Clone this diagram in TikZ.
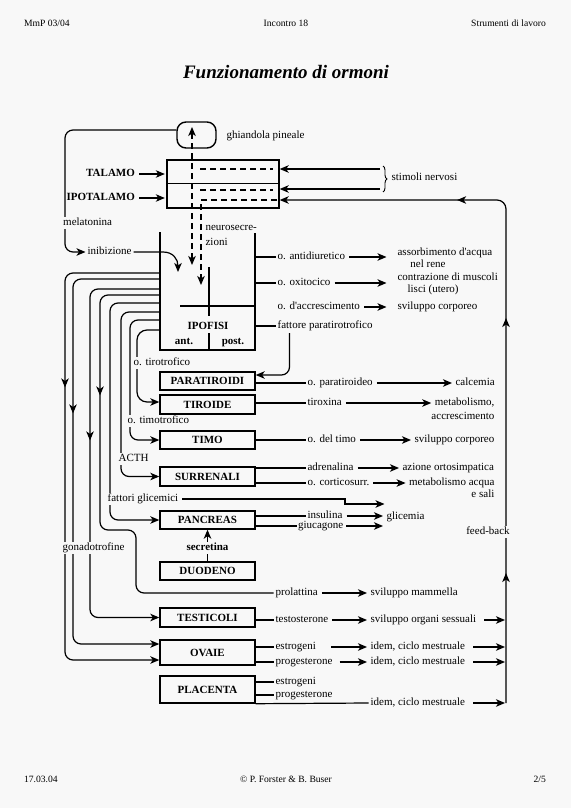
\documentclass[tikz,border=0pt]{standalone}
\usepackage{fontspec}
\setmainfont{Liberation Serif}
\usetikzlibrary{arrows.meta,decorations.pathreplacing,decorations.markings}
\definecolor{pagebg}{RGB}{248,248,248}

\begin{document}
\begin{tikzpicture}
  [x=1pt,y=-1pt,line width=1.2pt,>={Stealth[length=9pt,width=7.5pt,inset=2.5pt]},
   every node/.style={inner sep=1.5pt,text height=7.5pt,text depth=2.5pt,font=\fontsize{11}{13}\selectfont},
   organ/.style={draw,line width=1.4pt,fill=pagebg,minimum width=95pt,minimum height=19pt,
     inner sep=0pt,text depth=0pt,font=\fontsize{11}{13}\selectfont\bfseries},
   boldtxt/.style={font=\fontsize{11}{13}\selectfont\bfseries},
   txt/.style={anchor=west},
   rtxt/.style={anchor=east},
   lbl/.style={anchor=west,fill=pagebg,inner sep=0.6pt},
   headtxt/.style={font=\fontsize{9.6}{11}\selectfont},
   neuro/.style={dash pattern=on 6pt off 4pt},
   arr/.style={->},
   flow/.style={->,shorten <=2pt,shorten >=1.5pt},
   fbarr/.style={->,shorten <=6pt,shorten >=1pt},
   midarr/.style={postaction={decorate,decoration={markings,mark=at position #1 with {\arrow{>}}}}}]
  \path[use as bounding box,fill=pagebg] (0,0) rectangle (571,808);

  % page head and foot
  \node[headtxt,anchor=west] (hleft) at (22,24) {MmP 03/04};
  \node[headtxt] (hmid) at (286,24) {Incontro 18};
  \node[headtxt,anchor=east] (hright) at (548,24) {Strumenti di lavoro};
  \node[font=\fontsize{19}{22}\selectfont\bfseries\itshape] (title) at (286,76) {Funzionamento di ormoni};
  \node[headtxt,anchor=west] (fleft) at (22,780) {17.03.04};
  \node[headtxt] (fmid) at (286,780) {© P. Forster \& B. Buser};
  \node[headtxt,anchor=east] (fright) at (548,780) {2/5};

  % brain
  \node[draw,line width=1.4pt,rounded corners=9pt,minimum width=39pt,minimum height=26pt] (pineal) at (196.5,135) {};
  \node[txt] (pinlbl) at (224.5,136) {ghiandola pineale};
  \node[draw,line width=1.4pt,minimum width=112pt,minimum height=23.5pt,inner sep=0pt] (talbox) at (223,171.75) {};
  \node[draw,line width=1.4pt,minimum width=112pt,minimum height=24.5pt,inner sep=0pt] (ipobox) at (223,195.75) {};
  \node[boldtxt,anchor=east] (talamo) at (137,174) {TALAMO};
  \node[boldtxt,anchor=east] (ipotalamo) at (137,198) {IPOTALAMO};
  \node[txt] (stimoli) at (389.5,178) {stimoli nervosi};
  \coordinate (stim1) at (380,169);
  \coordinate (stim2) at (380,189);
  \coordinate (brtop) at (383,166);
  \coordinate (brbot) at (383,192);

  % hypophysis
  \coordinate (ipoTL) at (160,232);
  \coordinate (ipoTR) at (255,233);
  \coordinate (ipoBL) at (160,350);
  \coordinate (ipoBR) at (255,350);
  \node[boldtxt] (ipofisi) at (208,327) {IPOFISI};
  \node[boldtxt] (ant) at (184,341.5) {ant.};
  \node[boldtxt] (post) at (233,341.5) {post.};
  \node[txt] (neurosec) at (203.5,228) {neurosecre-};
  \node[txt] (neurozi) at (203.5,243) {zioni};
  \node[txt] (inib) at (85.5,252) {inibizione};
  \draw[line width=1.4pt] (ipoTL) -- (ipoBL) -- (ipoBR) -- (ipoTR);
  \draw (180,306) -- (ipoTR |- 0,306);
  \draw (209,267) -- (209,316);
  \draw (209,333) -- (ipoBL -| 209,0);

  \node[txt] (adiur) at (275.5,257) {o. antidiuretico};
  \node[txt] (assorb) at (395.5,253) {assorbimento d\textquotesingle acqua};
  \node (nelrene) at (428,264.5) {nel rene};
  \node[txt] (oxit) at (275.5,283) {o. oxitocico};
  \node[txt] (contraz) at (395.5,278) {contrazione di muscoli};
  \node[txt] (lisci) at (405.5,290) {lisci (utero)};
  \node[txt] (daccr) at (275.5,307) {o. d\textquotesingle accrescimento};
  \node[txt] (svcorp1) at (395.5,307) {sviluppo corporeo};
  \node[txt] (fptr) at (275.5,326) {fattore paratirotrofico};

  % glands
  \node[organ,minimum height=18pt] (paratiroidi) at (207.5,381) {PARATIROIDI};
  \node[organ] (tiroide) at (207.5,404.5) {TIROIDE};
  \node[organ,minimum height=18pt] (timo) at (207.5,440) {TIMO};
  \node[organ] (surrenali) at (207.5,476.5) {SURRENALI};
  \node[organ,minimum height=18pt] (pancreas) at (207.5,520) {PANCREAS};
  \node[organ,minimum height=18pt] (duodeno) at (207.5,571) {DUODENO};
  \node[organ] (testicoli) at (207.5,617.5) {TESTICOLI};
  \node[organ,minimum height=25pt] (ovaie) at (207.5,652.5) {OVAIE};
  \node[organ,minimum height=27pt] (placenta) at (207.5,689.5) {PLACENTA};

  \node[txt] (oparat) at (305.5,383) {o. paratiroideo};
  \node[txt] (calcemia) at (453.5,383) {calcemia};
  \node[txt] (tirox) at (305.5,403) {tiroxina};
  \node[rtxt] (metab) at (496.5,403) {metabolismo,};
  \node[rtxt] (accresc) at (496.5,417) {accrescimento};
  \node[txt] (odeltimo) at (305.5,440) {o. del timo};
  \node[txt] (svcorp2) at (412.5,440) {sviluppo corporeo};
  \node[txt] (adren) at (305.5,468) {adrenalina};
  \node[txt] (aziorto) at (400.5,468) {azione ortosimpatica};
  \node[txt] (cortic) at (305.5,483) {o. corticosurr.};
  \node[rtxt] (metacq) at (496.5,483) {metabolismo acqua};
  \node[rtxt] (esali) at (496.5,495) {e sali};
  \node[txt] (insul) at (305.5,516) {insulina};
  \node[txt,inner sep=0.5pt] (giuc) at (297,526) {giucagone};
  \node[txt] (glicemia) at (384.5,517) {glicemia};
  \node[txt] (prolatt) at (273.5,593) {prolattina};
  \node[txt] (svmamm) at (368.5,593) {sviluppo mammella};
  \node[txt] (testost) at (273.5,620) {testosterone};
  \node[txt] (svorg) at (368.5,620) {sviluppo organi sessuali};
  \node[txt] (estr1) at (273.5,647) {estrogeni};
  \node[txt] (idem1) at (368.5,647) {idem, ciclo mestruale};
  \node[txt] (prog1) at (273.5,662) {progesterone};
  \node[txt] (idem2) at (368.5,662) {idem, ciclo mestruale};
  \node[txt] (estr2) at (273.5,682) {estrogeni};
  \node[txt] (prog2) at (273.5,695) {progesterone};
  \node[txt] (idem3) at (368.5,703) {idem, ciclo mestruale};

  % nerves and neurosecretion
  \draw[flow] (talamo.east) -- (talamo.east -| talbox.west);
  \draw[flow] (ipotalamo.east) -- (ipotalamo.east -| ipobox.west);
  \draw[arr] (stim1) -- (stim1 -| talbox.east);
  \draw[arr] (stim2) -- (stim2 -| ipobox.east);
  \draw[decorate,decoration={brace,amplitude=4pt},line width=0.9pt] (brtop) -- (brbot);
  \draw[neuro] (200,169) -- (273,169);
  \draw[neuro] (200,190) -- (273,190);
  \coordinate (neuStart) at (277,200);
  \coordinate (neuTip) at (201,285);
  \draw[neuro,->] (neuStart) -| (neuTip);
  \coordinate (pinTip) at (192,127);
  \coordinate (ipoTip) at (192,265);
  \draw[neuro,<->] (ipoTip) -- (pinTip);
  \draw[arr,rounded corners=8pt] ([yshift=5pt]pineal.west) -| (65,252) -- (inib.west);
  \coordinate (inibTip) at (178,272);
  \draw[arr] (inib.east) -- (163,252) .. controls (173,252) and (178,259) .. (inibTip);

  % anterior hormones
  \foreach \y [count=\i] in {273,279,289,295,303,312,320,330}
    \coordinate (src\i) at (ipoTL |- 0,\y);
  \draw[arr,rounded corners=8pt,midarr=206pt] (src1) -| (65,660) -- (ovaie.west |- 0,660);
  \draw[arr,rounded corners=8pt,midarr=218pt] (src2) -| (73,644) -- (ovaie.west |- 0,644);
  \draw[arr,rounded corners=8pt,midarr=218pt] (src3) -| (90,617.5) -- (testicoli.west);
  \draw[rounded corners=8pt,midarr=157pt] (src4) -| (100,530) -| (136,593) -- (prolatt.west);
  \draw[arr,rounded corners=8pt] (src5) -| (110,520) -- (pancreas.west);
  \draw[arr,rounded corners=8pt] (src6) -| (121,476.5) -- (surrenali.west);
  \draw[arr,rounded corners=8pt] (src7) -| (130,440) -- (timo.west);
  \draw[arr,rounded corners=10pt] (src8) -| (137,402) -- (tiroide.west |- 0,402);

  \node[lbl] (melat) at (62,223) {melatonina};
  \node[lbl] (tirotr) at (132.5,363) {o. tirotrofico};
  \node[lbl] (timotr) at (126.5,421) {o. timotrofico};
  \node[lbl] (acth) at (117.5,459) {ACTH};
  \node[lbl] (fglic) at (106.5,499) {fattori glicemici};
  \node[lbl] (gonad) at (61.5,548) {gonadotrofine};

  \coordinate (fgA) at (345,499);
  \coordinate (fgB) at (345,504);
  \draw[arr,shorten <=3pt] (fglic.east) -- (fgA) -- (fgB) -- (fgB -| glicemia.west);

  % outputs
  \draw (adiur.west -| ipoTR) -- (adiur.west);
  \draw (oxit.west -| ipoTR) -- (oxit.west);
  \draw (fptr.west -| ipoTR) -- (fptr.west);
  \draw[arr,rounded corners=8pt] ([xshift=14pt]fptr.south west) |- ([yshift=6pt]paratiroidi.east);
  \draw[flow,shorten >=9pt] (adiur.east) -- (adiur.east -| assorb.west);
  \draw[flow,shorten >=9pt] (oxit.east) -- (oxit.east -| contraz.west);
  \draw[flow,shorten >=9pt] (daccr.east) -- (daccr.east -| svcorp1.west);
  \foreach \o/\t in {paratiroidi/oparat,tiroide/tirox,timo/odeltimo,surrenali/adren,surrenali/cortic,
      pancreas/insul,pancreas/giuc,testicoli/testost,ovaie/estr1,ovaie/prog1,placenta/estr2,placenta/prog2}
    \draw (\t.west -| \o.east) -- (\t.west);
  \draw (placenta.south east) -- (idem3.west);
  \path[every edge/.append style={flow}]
    (oparat) edge (calcemia)
    (tirox) edge (metab)
    (odeltimo) edge (svcorp2)
    (adren) edge (aziorto)
    (cortic) edge (metacq)
    (insul.east) edge (insul.east -| glicemia.west)
    (giuc.east) edge (giuc.east -| glicemia.west)
    (prolatt) edge (svmamm)
    (testost) edge (svorg)
    (estr1) edge[shorten <=13pt] (idem1)
    (prog1) edge[shorten <=5pt] (idem2);
  \draw[arr] (duodeno.north) -- (pancreas.south);
  \node[boldtxt,fill=pagebg,inner sep=1pt] (secretina) at (207.5,548) {secretina};

  % feed-back
  \coordinate (fbBot) at (506,703);
  \coordinate (fbTop) at (506,200);
  \path[every edge/.append style={fbarr}]
    (svorg.east) edge (svorg.east -| fbBot)
    (idem1.east) edge (idem1.east -| fbBot)
    (idem2.east) edge (idem2.east -| fbBot)
    (idem3.east) edge (idem3.east -| fbBot);
  \draw[arr,rounded corners=9pt,postaction={decorate},decoration={markings,
      mark=at position 130pt with {\arrow{>}},mark=at position 385pt with {\arrow{>}},
      mark=at position 548pt with {\arrow{>}}}] (fbBot) -- (fbTop) -- (fbTop -| ipobox.east);
  \node[fill=pagebg,inner sep=1pt] (feedback) at (488,532) {feed-back};
\end{tikzpicture}
\end{document}
